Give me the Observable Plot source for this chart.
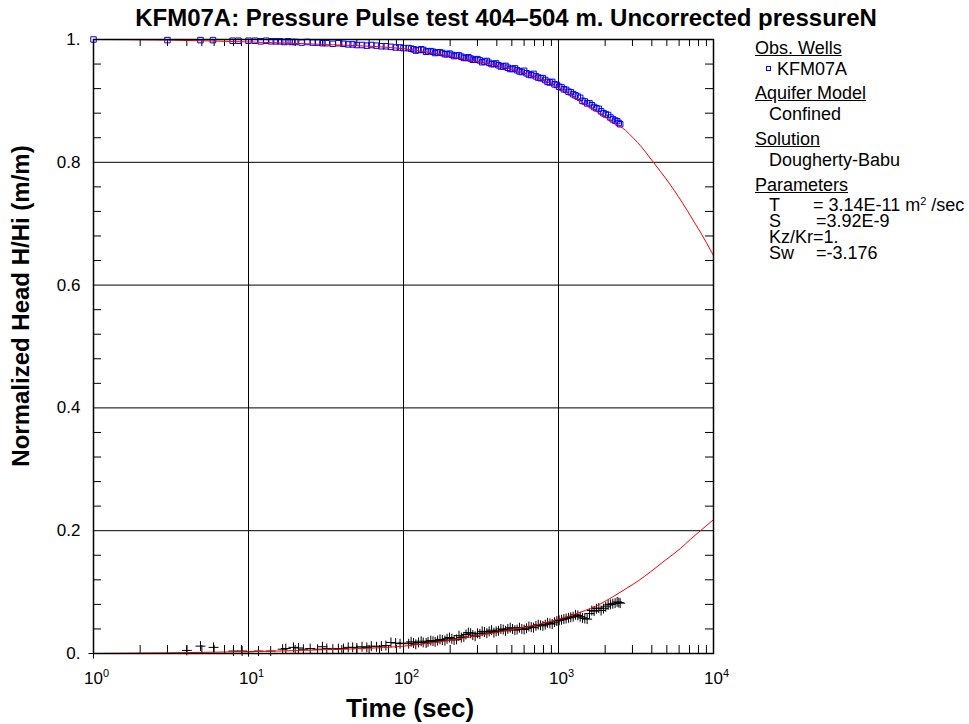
<!DOCTYPE html>
<html>
<head>
<meta charset="utf-8">
<script src="https://cdn.jsdelivr.net/npm/d3@7"></script>
<script src="https://cdn.jsdelivr.net/npm/@observablehq/plot@0.6"></script>
<style>
  body { margin: 0; background: #fff; font-family: "Liberation Sans", Arial, sans-serif; color: #000; }
  #wrap { position: relative; width: 969px; height: 724px; overflow: hidden; background: #fff; }
  #chart { position: absolute; left: 0; top: 30px; }
  .abs { position: absolute; white-space: nowrap; }
  #title { left: 0; top: 6px; width: 1012px; text-align: center; font-weight: bold; font-size: 24px; line-height: 24px; }
  #ylab { left: -179px; top: 294px; width: 400px; text-align: center; font-weight: bold; font-size: 24px; line-height: 24px; transform: rotate(-90deg); }
  #xlab { left: 210px; top: 695px; width: 400px; text-align: center; font-weight: bold; font-size: 26px; line-height: 26px; }
  .lg { position: absolute; white-space: nowrap; font-size: 18px; line-height: 16px; }
  .lg .k { display: inline-block; }
  .u { text-decoration: underline; }
  .sq { position: absolute; width: 3px; height: 3px; border: 1px solid #0000ff; }
  sup { font-size: 11px; vertical-align: 6px; line-height: 0; }
</style>
</head>
<body>
<div id="wrap">
  <div id="title" class="abs"></div>
  <div id="chart"></div>
  <div id="ylab" class="abs"></div>
  <div id="xlab" class="abs"></div>
  <div id="legend"></div>
</div>
<script>
// ---------- data ----------
const titleText = "KFM07A: Pressure Pulse test 404–504 m. Uncorrected pressureN";
const xLabelText = "Time (sec)";
const yLabelText = "Normalized Head H/Hi (m/m)";

const xMajorTicks = [1, 10, 100, 1000, 10000];
const xMinorTicks = [2,3,4,5,6,7,8,9, 20,30,40,50,60,70,80,90, 200,300,400,500,600,700,800,900, 2000,3000,4000,5000,6000,7000,8000,9000];
const yMajorTicks = [0, 0.2, 0.4, 0.6, 0.8, 1];
const yMinorTicks = [0.04,0.08,0.12,0.16, 0.24,0.28,0.32,0.36, 0.44,0.48,0.52,0.56, 0.64,0.68,0.72,0.76, 0.84,0.88,0.92,0.96];
const yTickLabels = ["0.", "0.2", "0.4", "0.6", "0.8", "1."];

// KFM07A observed (blue squares): [time s, H/Hi]
const kfm07aObs = [
  [1,1.000],[3.0,0.999],[4.9,0.999],[5.9,0.999],[7.9,0.998],[8.6,0.998],
  [10,0.998],[11,0.998],[12,0.997],[13,0.998],[14,0.997],[15,0.997],[16,0.997],[17,0.996],[18,0.997],[19,0.996],
  [20,0.996],[22,0.995],[24,0.996],[26,0.995],[28,0.995],[30,0.994],[32,0.994],[35,0.993],[38,0.994],[41,0.993],
  [44,0.992],[47,0.992],[50,0.991],[54,0.991],[58,0.990],[62,0.991],[67,0.990],[72,0.989],[77,0.989],[83,0.988],
  [89,0.987],[95,0.987],[100,0.986],[108,0.986],[116,0.984],[125,0.983],[134,0.983],[144,0.981],[155,0.980],
  [166,0.979],[178,0.978],[191,0.976],[205,0.975],[220,0.974],[236,0.972],[253,0.970],[271,0.969],[290,0.967],
  [311,0.966],[333,0.964],[357,0.962],[383,0.960],[410,0.958],[440,0.956],[471,0.954],[505,0.952],[541,0.950],
  [580,0.947],[622,0.945],[667,0.942],[715,0.940],[766,0.937],[821,0.934],[880,0.930],[943,0.927],[1010,0.923],
  [1083,0.919],[1160,0.915],[1243,0.911],[1332,0.907],[1428,0.900],[1530,0.896],[1640,0.893],[1757,0.888],
  [1883,0.883],[2018,0.878],[2163,0.873],[2318,0.868],[2450,0.864],
  [112,0.985],[120,0.982],[130,0.984],[140,0.980],[150,0.981],[160,0.978],[172,0.979],[185,0.976],[198,0.977],
  [212,0.973],[228,0.974],[245,0.970],[262,0.971],[280,0.967],[300,0.968],[322,0.963],[345,0.965],[370,0.960],
  [396,0.961],[425,0.956],[455,0.957],[488,0.952],[523,0.953],[560,0.948],[600,0.949],[644,0.943],[690,0.944],
  [740,0.938],[793,0.937],[850,0.931],[911,0.931],[976,0.926],[1046,0.922],[1120,0.918],[1200,0.914],[1287,0.909],
  [1380,0.905],[1478,0.899],[1584,0.896],[1698,0.890],[1820,0.887],[1950,0.880],[2090,0.877],[2240,0.870],
  [2390,0.867],[2500,0.862]
];

// second observed series (black crosses): [time s, H/Hi]
const crossObs = [
  [1,0.000],[4.0,0.005],[4.9,0.012],[5.95,0.010],[8.0,0.004],[9.1,0.004],
  [10,0.003],[11.6,0.004],[13.9,0.004],[16.6,0.007],[17.4,0.008],[19.5,0.010],[21,0.009],[22.6,0.007],[25,0.008],
  [27.9,0.007],[30,0.011],[32,0.008],[35,0.007],[38,0.008],[41,0.008],[44,0.010],[47,0.010],[50,0.009],[54,0.011],
  [58,0.010],[62,0.012],[67,0.011],[72,0.012],[77,0.013],[83,0.018],[89,0.017],[95,0.016],[100,0.017],[108,0.016],
  [116,0.017],[125,0.018],[134,0.018],[144,0.019],[155,0.020],[166,0.021],[178,0.022],[191,0.024],[205,0.024],
  [220,0.023],[236,0.026],[253,0.031],[271,0.033],[290,0.028],[311,0.032],[333,0.035],[357,0.036],[383,0.034],
  [410,0.037],[440,0.039],[471,0.040],[505,0.040],[541,0.039],[580,0.040],[622,0.041],[667,0.043],[715,0.045],
  [766,0.046],[821,0.047],[880,0.049],[943,0.051],[1010,0.054],[1083,0.056],[1160,0.058],[1243,0.060],[1332,0.062],
  [1428,0.058],[1530,0.056],[1640,0.070],[1757,0.073],[1883,0.070],[2018,0.076],[2163,0.080],[2318,0.082],[2450,0.083],
  [112,0.019],[120,0.015],[130,0.020],[140,0.017],[150,0.021],[160,0.019],[172,0.023],[185,0.021],[198,0.026],
  [212,0.022],[228,0.029],[245,0.027],[262,0.034],[280,0.030],[300,0.033],[322,0.036],[345,0.033],[370,0.038],
  [396,0.036],[425,0.040],[455,0.037],[488,0.042],[523,0.038],[560,0.042],[600,0.039],[644,0.044],[690,0.042],
  [740,0.047],[793,0.045],[850,0.050],[911,0.048],[976,0.053],[1046,0.055],[1120,0.057],[1200,0.059],[1287,0.063],
  [1380,0.060],[1478,0.057],[1584,0.065],[1698,0.069],[1820,0.074],[1950,0.073],[2090,0.079],[2240,0.081],
  [2390,0.084],[2500,0.082]
];

// Dougherty-Babu type curves (red): [time s, H/Hi]
const upperCurve = [
  [1,1.000],[3,0.999],[10,0.996],[30,0.992],[100,0.985],[260,0.967],[540,0.949],[1000,0.922],
  [1540,0.892],[2270,0.865],[2705,0.852],[3050,0.839],[3430,0.825],[4040,0.802],[4550,0.785],[5280,0.763],
  [5940,0.744],[6790,0.721],[7540,0.702],[8240,0.686],[9010,0.669],[10000,0.648]
];
const lowerCurve = [
  [1,0.000],[10,0.003],[30,0.006],[100,0.012],[300,0.029],[1000,0.056],[1380,0.067],[1870,0.081],
  [2230,0.092],[2705,0.105],[3300,0.119],[3925,0.133],[4890,0.152],[6120,0.171],[7100,0.186],[8240,0.200],
  [10000,0.218]
];

// ---------- layout ----------
const W = 969, H = 694;
const M = {top: 9, right: 256, bottom: 71, left: 93};
const plotH = H - M.top - M.bottom, plotW = W - M.left - M.right;
const tickLen = 8;

const chart = Plot.plot({
  width: W, height: H,
  marginTop: M.top, marginRight: M.right, marginBottom: M.bottom, marginLeft: M.left,
  style: {fontFamily: '"Liberation Sans", Arial, sans-serif', fontSize: "17px", color: "#000", background: "#fff"},
  x: {type: "log", domain: [1, 10000]},
  y: {domain: [0, 1]},
  marks: [
    Plot.gridX(xMajorTicks, {stroke: "#000", strokeOpacity: 1, strokeWidth: 1}),
    Plot.gridY(yMajorTicks, {stroke: "#000", strokeOpacity: 1, strokeWidth: 1}),
    Plot.tickX(xMinorTicks, {x: d => d, insetTop: plotH - tickLen, stroke: "#000"}),
    Plot.tickX(xMinorTicks, {x: d => d, insetBottom: plotH - tickLen + 1, stroke: "#000"}),
    Plot.tickY(yMinorTicks, {y: d => d, insetRight: plotW - tickLen, stroke: "#000"}),
    Plot.tickY(yMinorTicks, {y: d => d, insetLeft: plotW - tickLen, stroke: "#000"}),
    Plot.axisX(xMajorTicks, {anchor: "bottom", tickSize: 0, tickPadding: 18, fontSize: 17,
      tickFormat: d => String(Math.round(Math.log10(d))), label: null}),
    Plot.axisY(yMajorTicks, {anchor: "left", tickSize: 0, tickPadding: 13, fontSize: 17,
      tickFormat: d => yTickLabels[yMajorTicks.indexOf(d)], label: null}),
    Plot.dot(crossObs, {x: d => d[0], y: d => d[1], symbol: "plus", r: 3.3, stroke: "#000", strokeWidth: 1}),
    Plot.dot(kfm07aObs, {x: d => d[0], y: d => d[1], symbol: "square", r: 3.1, stroke: "#0000ff", fill: "none", strokeWidth: 1}),
    Plot.line(upperCurve, {x: d => d[0], y: d => d[1], stroke: "#ff0000", strokeWidth: 1, curve: "monotone-x"}),
    Plot.line(lowerCurve, {x: d => d[0], y: d => d[1], stroke: "#ff0000", strokeWidth: 1, curve: "monotone-x"}),
    Plot.frame({stroke: "#000", strokeWidth: 1.5})
  ]
});
document.getElementById("chart").appendChild(chart);

// superscript exponents on x tick labels (10^n)
d3.select(chart).selectAll('[aria-label="x-axis tick label"] text').each(function() {
  const e = this.textContent;
  const t = d3.select(this).text(null);
  t.append("tspan").attr("dx", 3).text("10");
  t.append("tspan").attr("dy", "-0.6em").attr("font-size", 11).text(e);
});

document.getElementById("title").textContent = titleText;
document.getElementById("xlab").textContent = xLabelText;
document.getElementById("ylab").textContent = yLabelText;

// legend
const legendLines = [
  {x: 755, base: 54, html: '<span class="u">Obs. Wells</span>'},
  {x: 777, base: 75, html: 'KFM07A'},
  {x: 755, base: 99, html: '<span class="u">Aquifer Model</span>'},
  {x: 769, base: 120, html: 'Confined'},
  {x: 755, base: 145, html: '<span class="u">Solution</span>'},
  {x: 769, base: 166, html: 'Dougherty-Babu'},
  {x: 755, base: 191, html: '<span class="u">Parameters</span>'},
  {x: 769, base: 211, html: '<span class="k" style="width:44px">T</span>= 3.14E-11 m<sup>2</sup> /sec'},
  {x: 769, base: 227, html: '<span class="k" style="width:47px">S</span>=3.92E-9'},
  {x: 769, base: 243, html: 'Kz/Kr=1.'},
  {x: 769, base: 259, html: '<span class="k" style="width:47px">Sw</span>=-3.176'}
];
const lg = document.getElementById("legend");
for (const l of legendLines) {
  const d = document.createElement("div");
  d.className = "lg";
  d.style.left = l.x + "px";
  d.style.top = (l.base - 14) + "px";
  d.innerHTML = l.html;
  lg.appendChild(d);
}
const sq = document.createElement("div");
sq.className = "sq";
sq.style.left = "766px"; sq.style.top = "66px";
lg.appendChild(sq);
</script>
</body>
</html>
